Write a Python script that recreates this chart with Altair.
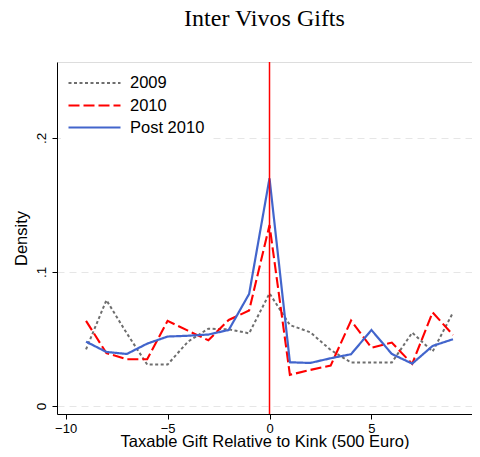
import altair as alt
import pandas as pd

# ---- data ----
x_vals = [-9, -8, -7, -6, -5, -4, -3, -2, -1, 0, 1, 2, 3, 4, 5, 6, 7, 8, 9]
y_2009 = [0.0423, 0.0790, 0.0542, 0.0309, 0.0309, 0.0480, 0.0577, 0.0572, 0.0542,
          0.0840, 0.0604, 0.0550, 0.0418, 0.0324, 0.0324, 0.0324, 0.0547, 0.0406, 0.0697]
y_2010 = [0.0635, 0.0394, 0.0349, 0.0349, 0.0635, 0.0562, 0.0490, 0.0642, 0.0712,
          0.1350, 0.0232, 0.0269, 0.0301, 0.0637, 0.0435, 0.0473, 0.0314, 0.0699, 0.0530]
y_post = [0.0480, 0.0403, 0.0388, 0.0465, 0.0518, 0.0524, 0.0533, 0.0567, 0.0836,
          0.1699, 0.0326, 0.0321, 0.0356, 0.0386, 0.0567, 0.0388, 0.0316, 0.0448, 0.0498]
series = ["2009", "2010", "Post 2010"]
colors = ["#6e6e6e", "#ff0000", "#4265cc"]
dashes = [[3, 2.5], [11, 4], [1, 0]]
widths = [2.0, 2.2, 2.6]
kink = [0]

rows = []
for name, ys in zip(series, [y_2009, y_2010, y_post]):
    for xv, yv in zip(x_vals, ys):
        rows.append({"x": xv, "y": yv, "series": name})
df = pd.DataFrame(rows)

legend = alt.Legend(
    title=None, orient="none", legendX=4, legendY=4,
    symbolType="M-1,0H4.2", symbolSize=400, symbolStrokeWidth=2,
    labelFont="Liberation Sans", labelFontSize=16.5, labelColor="black",
    fillColor="white", padding=6, rowPadding=2, labelOffset=40,
)

xscale = alt.Scale(domain=[-10.424, 9.933], nice=False, zero=False)
yscale = alt.Scale(domain=[-0.006, 0.2567], nice=False, zero=False)

lines = alt.Chart(df).mark_line().encode(
    x=alt.X("x:Q", scale=xscale, axis=alt.Axis(
        values=[-10, -5, 0, 5, 10], grid=False,
        title="Taxable Gift Relative to Kink (500 Euro)",
        titleFont="Liberation Sans", titleFontSize=16.5, titleFontWeight="normal",
        titleColor="black", titlePadding=-2,
        labelFont="Liberation Sans", labelFontSize=13, labelColor="black",
        labelPadding=3, tickSize=5, tickColor="black", domainColor="black",
        labelFlush=False)),
    y=alt.Y("y:Q", scale=yscale, axis=alt.Axis(
        values=[0, 0.1, 0.2],
        labelExpr="datum.value == 0 ? '0' : replace(format(datum.value, '.1f'), '0.', '.')",
        title="Density", titleFont="Liberation Sans", titleFontSize=16.5,
        titleFontWeight="normal", titleColor="black", titlePadding=5,
        labelFont="Liberation Sans", labelFontSize=13.5, labelColor="black",
        labelAngle=-90, labelAlign="center", labelBaseline="bottom", labelPadding=4,
        tickSize=5, tickColor="black", domainColor="black",
        grid=True, gridColor="#e6e6e6", gridDash=[7, 5], gridWidth=1)),
    color=alt.Color("series:N", scale=alt.Scale(domain=series, range=colors), legend=legend),
    strokeDash=alt.StrokeDash("series:N", scale=alt.Scale(domain=series, range=dashes), legend=legend),
    strokeWidth=alt.StrokeWidth("series:N", scale=alt.Scale(domain=series, range=widths), legend=legend),
    order=alt.Order("series:N"),
)

rule = alt.Chart(pd.DataFrame({"x": kink})).mark_rule(color="#ff0000", strokeWidth=1.5).encode(
    x=alt.X("x:Q", scale=xscale)
)

chart = alt.layer(lines, rule).properties(
    width=415, height=352,
    title=alt.TitleParams("Inter Vivos Gifts", font="Liberation Serif", fontSize=24,
                          fontWeight="normal", color="black", offset=30, frame="group"),
    autosize=alt.AutoSizeParams(type="none"),
    padding={"left": 49, "top": 54, "right": 0, "bottom": 35},
).configure_view(stroke=None).configure(background="white")

chart.save("out.html", embed_options={"renderer": "svg", "actions": False})
